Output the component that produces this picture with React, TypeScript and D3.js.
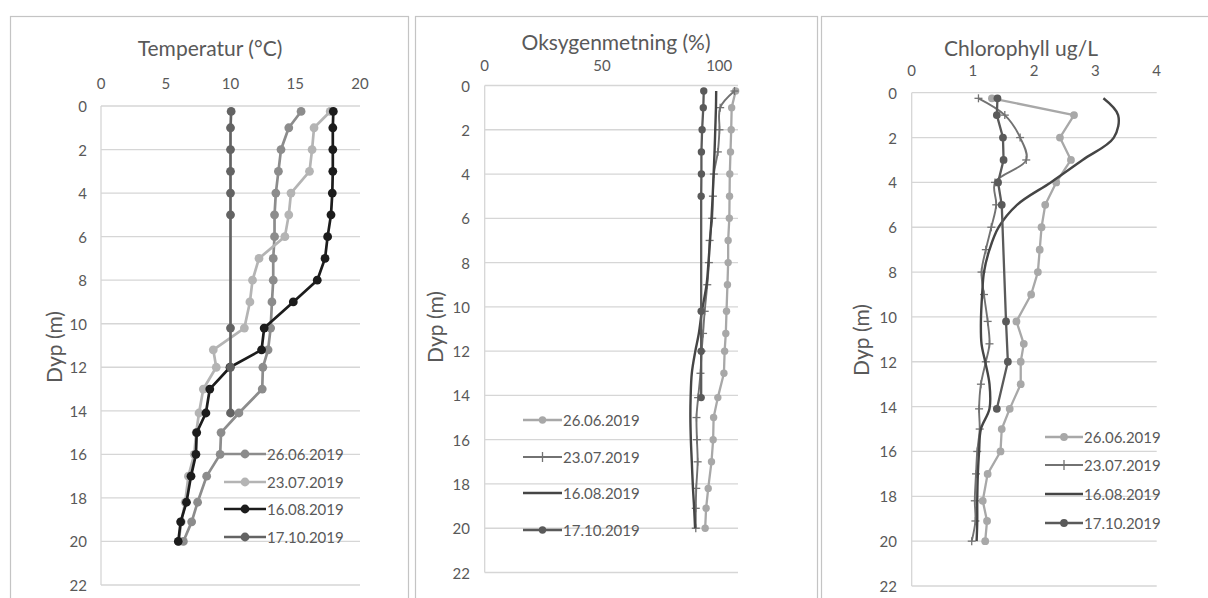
import React from 'react';
import * as d3 from 'd3';

// ---------- data ----------
const seriesNames = ['26.06.2019', '23.07.2019', '16.08.2019', '17.10.2019'];
const depthFull = [0.25, 1, 2, 3, 4, 5, 6, 7, 8, 9, 10.2, 11.2, 12, 13, 14.1, 15, 16, 17, 18.2, 19.1, 20];
const depthOct = [0.25, 1, 2, 3, 4, 5, 10.2, 12, 14.1];
const depthTicks = [0, 2, 4, 6, 8, 10, 12, 14, 16, 18, 20, 22];

const tempTicks = [0, 5, 10, 15, 20];
const temp2606 = [15.45, 14.5, 13.9, 13.7, 13.5, 13.4, 13.4, 13.3, 13.3, 13.2, 13.1, 12.9, 12.5, 12.45, 10.65, 9.27, 9.2, 8.16, 7.46, 7.0, 6.36];
const temp2307 = [17.7, 16.45, 16.3, 16.1, 14.67, 14.5, 14.2, 12.2, 11.7, 11.5, 11.07, 8.67, 8.9, 7.9, 7.57, 7.35, 7.2, 6.75, 6.5, 6.2, 6.0];
const temp1608 = [17.94, 17.9, 17.9, 17.9, 17.86, 17.76, 17.5, 17.3, 16.7, 14.85, 12.6, 12.4, 9.96, 8.4, 8.1, 7.39, 7.33, 6.95, 6.6, 6.15, 5.97];
const temp1710 = [10.05, 10.0, 10.0, 10.0, 10.0, 10.0, 10.0, 10.0, 10.0];

const oxyTicks = [0, 50, 100];
const oxy2606 = [107.0, 105.3, 105.1, 104.8, 104.5, 104.4, 104.3, 103.8, 103.8, 103.5, 103.1, 102.8, 102.3, 102.0, 99.4, 97.6, 97.4, 96.7, 95.3, 94.4, 94.0];
const oxy2307 = [106.5, 100.4, 100.1, 99.4, 97.7, 97.3, 97.0, 95.9, 95.6, 94.9, 93.8, 93.1, 92.5, 92.0, 91.0, 90.3, 90.5, 90.8, 90.2, 90.0, 90.0];
const oxy1608 = [98.7, 98.6, 98.3, 98.0, 97.6, 97.2, 96.7, 96.1, 95.4, 94.6, 92.6, 91.3, 89.8, 88.3, 87.8, 87.7, 87.9, 88.3, 88.8, 89.3, 89.7];
const oxy1710 = [93.4, 93.2, 92.7, 92.4, 92.4, 92.3, 92.3, 92.3, 92.3];

const chlTicks = [0, 1, 2, 3, 4];
const chl2606 = [1.31, 2.65, 2.42, 2.60, 2.36, 2.18, 2.12, 2.09, 2.06, 1.95, 1.71, 1.83, 1.78, 1.78, 1.60, 1.47, 1.45, 1.24, 1.16, 1.23, 1.20];
const chl2307 = [1.09, 1.52, 1.77, 1.87, 1.36, 1.38, 1.30, 1.21, 1.14, 1.18, 1.24, 1.27, 1.21, 1.13, 1.10, 1.11, 1.07, 1.05, 1.03, 1.04, 0.98];
const chl1608 = [3.13, 3.37, 3.30, 2.79, 2.27, 1.72, 1.42, 1.27, 1.18, 1.15, 1.13, 1.14, 1.20, 1.27, 1.27, 1.13, 1.10, 1.08, 1.07, 1.07, 1.06];
const chl1710 = [1.40, 1.39, 1.49, 1.50, 1.41, 1.47, 1.54, 1.57, 1.39];

// ---------- styling / layout ----------
const FONT = 'Lato, "Open Sans", sans-serif';
const TXT = '#595959';
const GRID = '#d6d6d6';

type Marker = 'circle' | 'plus' | 'none';
interface SeriesDef { name: string; depths: number[]; values: number[]; color: string; marker: Marker; smooth: boolean; width: number; r: number; }
interface PanelDef {
  title: string; titleX: number; titleY: number;
  border: [number, number, number, number];
  xDomain: [number, number]; xTicks: number[];
  px0: number; px1: number; py0: number; py1: number;
  xTickY: number; yTickRight: number; yLabelX: number; yLabelY: number;
  legX0: number; legX1: number; legYs: number[];
  series: SeriesDef[];
}

const P1C = ['#8c8c8c', '#b4b4b4', '#1c1c1c', '#636363'];
const P2C = ['#a8a8a8', '#727272', '#454545', '#5a5a5a'];

const panels: PanelDef[] = [
  {
    title: 'Temperatur (°C)', titleX: 210, titleY: 47, border: [10.5, 16.5, 398, 620],
    xDomain: [0, 20], xTicks: tempTicks, px0: 101, px1: 360, py0: 106, py1: 585,
    xTickY: 83, yTickRight: 87, yLabelX: 53, yLabelY: 347,
    legX0: 224, legX1: 266, legYs: [454, 482, 509, 537],
    series: [
      { name: seriesNames[0], depths: depthFull, values: temp2606, color: P1C[0], marker: 'circle', smooth: false, width: 2.7, r: 4.4 },
      { name: seriesNames[1], depths: depthFull, values: temp2307, color: P1C[1], marker: 'circle', smooth: false, width: 2.7, r: 4.4 },
      { name: seriesNames[2], depths: depthFull, values: temp1608, color: P1C[2], marker: 'circle', smooth: false, width: 2.7, r: 4.4 },
      { name: seriesNames[3], depths: depthOct, values: temp1710, color: P1C[3], marker: 'circle', smooth: false, width: 2.7, r: 4.4 },
    ],
  },
  {
    title: 'Oksygenmetning (%)', titleX: 616, titleY: 41, border: [415.5, 16.5, 402, 620],
    xDomain: [0, 108], xTicks: oxyTicks, px0: 484.7, px1: 738, py0: 85.5, py1: 572.5,
    xTickY: 65, yTickRight: 470, yLabelX: 434, yLabelY: 327,
    legX0: 523, legX1: 562, legYs: [420, 457, 493, 530],
    series: [
      { name: seriesNames[0], depths: depthFull, values: oxy2606, color: P2C[0], marker: 'circle', smooth: false, width: 2.3, r: 3.7 },
      { name: seriesNames[1], depths: depthFull, values: oxy2307, color: P2C[1], marker: 'plus', smooth: true, width: 1.9, r: 4 },
      { name: seriesNames[2], depths: depthFull, values: oxy1608, color: P2C[2], marker: 'none', smooth: true, width: 2.4, r: 0 },
      { name: seriesNames[3], depths: depthOct, values: oxy1710, color: P2C[3], marker: 'circle', smooth: false, width: 2.3, r: 3.7 },
    ],
  },
  {
    title: 'Chlorophyll ug/L', titleX: 1021, titleY: 47, border: [821.5, 16.5, 400, 620],
    xDomain: [0, 4], xTicks: chlTicks, px0: 911.7, px1: 1156.7, py0: 92.7, py1: 586,
    xTickY: 70, yTickRight: 897, yLabelX: 860, yLabelY: 340,
    legX0: 1045, legX1: 1083, legYs: [437, 465, 494, 523],
    series: [
      { name: seriesNames[0], depths: depthFull, values: chl2606, color: P2C[0], marker: 'circle', smooth: false, width: 2.3, r: 3.9 },
      { name: seriesNames[1], depths: depthFull, values: chl2307, color: P2C[1], marker: 'plus', smooth: true, width: 1.9, r: 4 },
      { name: seriesNames[2], depths: depthFull, values: chl1608, color: P2C[2], marker: 'none', smooth: true, width: 2.4, r: 0 },
      { name: seriesNames[3], depths: depthOct, values: chl1710, color: P2C[3], marker: 'circle', smooth: false, width: 2.3, r: 3.9 },
    ],
  },
];

function MarkerShape({ type, x, y, color, r }: { type: Marker; x: number; y: number; color: string; r: number }) {
  if (type === 'circle') return <circle cx={x} cy={y} r={r} fill={color} />;
  if (type === 'plus')
    return (
      <g stroke={color} strokeWidth={1.3}>
        <line x1={x - r} x2={x + r} y1={y} y2={y} />
        <line x1={x} x2={x} y1={y - r} y2={y + r} />
      </g>
    );
  return null;
}

function Panel({ p }: { p: PanelDef }) {
  const x = d3.scaleLinear().domain(p.xDomain).range([p.px0, p.px1]);
  const y = d3.scaleLinear().domain([0, 22]).range([p.py0, p.py1]);
  return (
    <g>
      <rect x={p.border[0]} y={p.border[1]} width={p.border[2]} height={p.border[3]} fill="#fff" stroke="#c4c4c4" strokeWidth={1.2} />
      <text x={p.titleX} y={p.titleY} textAnchor="middle" dominantBaseline="central" fontSize={21} fill={TXT} fontFamily={FONT}>{p.title}</text>
      {depthTicks.map((t) => (
        <line key={'g' + t} x1={x(p.xDomain[0])} x2={x(p.xDomain[1])} y1={y(t)} y2={y(t)} stroke={GRID} strokeWidth={1.3} />
      ))}
      <line x1={x(0)} x2={x(0)} y1={y(0)} y2={y(22)} stroke={GRID} strokeWidth={1.3} />
      {p.xTicks.map((t) => (
        <text key={'x' + t} x={x(t)} y={p.xTickY} textAnchor="middle" dominantBaseline="central" fontSize={15} fill={TXT} fontFamily={FONT}>{t}</text>
      ))}
      {depthTicks.map((t) => (
        <text key={'y' + t} x={p.yTickRight} y={y(t)} textAnchor="end" dominantBaseline="central" fontSize={15} fill={TXT} fontFamily={FONT}>{t}</text>
      ))}
      <text transform={`translate(${p.yLabelX},${p.yLabelY}) rotate(-90)`} textAnchor="middle" dominantBaseline="central" fontSize={21} fill={TXT} fontFamily={FONT}>Dyp (m)</text>
      {p.series.map((s) => {
        const pts: [number, number][] = s.values.map((v, i) => [v, s.depths[i]]);
        const gen = d3.line<[number, number]>().x((d) => x(d[0])).y((d) => y(d[1]))
          .curve(s.smooth ? d3.curveCatmullRom.alpha(0.5) : d3.curveLinear);
        return (
          <g key={s.name}>
            <path d={gen(pts) || ''} fill="none" stroke={s.color} strokeWidth={s.width} strokeLinejoin="round" />
            {pts.map((d, i) => (
              <MarkerShape key={i} type={s.marker} x={x(d[0])} y={y(d[1])} color={s.color} r={s.r} />
            ))}
          </g>
        );
      })}
      {p.series.map((s, i) => {
        const ly = p.legYs[i];
        const mx = (p.legX0 + p.legX1) / 2;
        return (
          <g key={'l' + s.name}>
            <line x1={p.legX0} x2={p.legX1} y1={ly} y2={ly} stroke={s.color} strokeWidth={s.width} />
            {s.marker === 'circle' && <circle cx={mx} cy={ly} r={s.r} fill={s.color} />}
            {s.marker === 'plus' && <line x1={mx} x2={mx} y1={ly - 5} y2={ly + 5} stroke={s.color} strokeWidth={1.3} />}
            <text x={p.legX1 + 1} y={ly} dominantBaseline="central" fontSize={15} fill={TXT} fontFamily={FONT}>{s.name}</text>
          </g>
        );
      })}
    </g>
  );
}

export default function App() {
  return (
    <svg width={1208} height={598} style={{ position: 'absolute', left: 0, top: 0, background: '#fff' }}>
      <rect x={0} y={0} width={1208} height={598} fill="#fff" />
      {panels.map((p) => (
        <Panel key={p.title} p={p} />
      ))}
    </svg>
  );
}
